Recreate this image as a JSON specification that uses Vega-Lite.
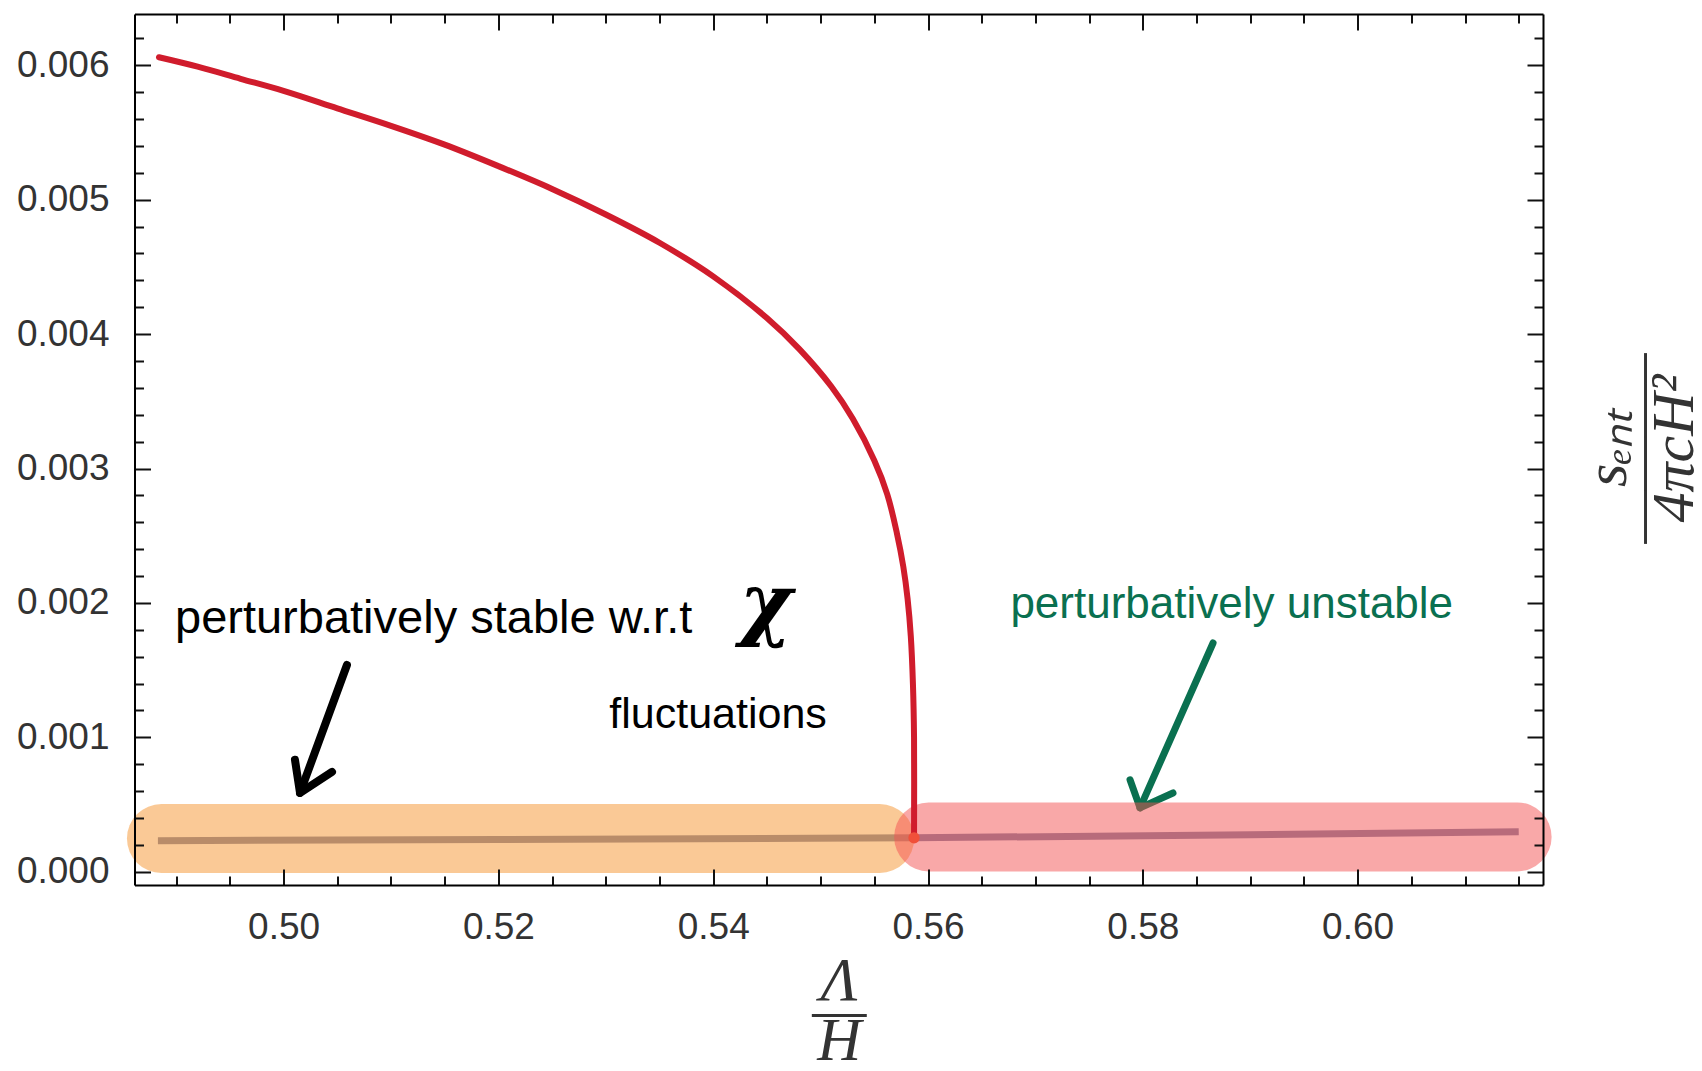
{
  "$schema": "https://vega.github.io/schema/vega-lite/v6.json",
  "width": 1408.5,
  "height": 871,
  "autosize": {"type": "none"},
  "padding": {"left": 134.5, "top": 14, "right": 159, "bottom": 186},
  "background": "white",
  "config": {"view": {"stroke": null}, "axis": {"grid": false}},
  "datasets": {
    "curve": [
      {"i": 0, "x": 0.4884, "y": 0.00606},
      {"i": 1, "x": 0.492, "y": 0.00599},
      {"i": 2, "x": 0.496, "y": 0.0059},
      {"i": 3, "x": 0.5, "y": 0.00581},
      {"i": 4, "x": 0.505, "y": 0.00568},
      {"i": 5, "x": 0.51, "y": 0.00555},
      {"i": 6, "x": 0.515, "y": 0.00541},
      {"i": 7, "x": 0.52, "y": 0.00525},
      {"i": 8, "x": 0.525, "y": 0.00508},
      {"i": 9, "x": 0.53, "y": 0.00489},
      {"i": 10, "x": 0.535, "y": 0.00468},
      {"i": 11, "x": 0.54, "y": 0.00443},
      {"i": 12, "x": 0.545, "y": 0.00412},
      {"i": 13, "x": 0.548, "y": 0.00389},
      {"i": 14, "x": 0.551, "y": 0.00361},
      {"i": 15, "x": 0.553, "y": 0.00337},
      {"i": 16, "x": 0.555, "y": 0.00306},
      {"i": 17, "x": 0.5562, "y": 0.00281},
      {"i": 18, "x": 0.5571, "y": 0.00252},
      {"i": 19, "x": 0.5577, "y": 0.00227},
      {"i": 20, "x": 0.5581, "y": 0.00203},
      {"i": 21, "x": 0.5584, "y": 0.00175},
      {"i": 22, "x": 0.5586, "y": 0.00139},
      {"i": 23, "x": 0.5587, "y": 0.001},
      {"i": 24, "x": 0.5587, "y": 0.00026}
    ],
    "base": [
      {"x": 0.4883, "y": 0.000231},
      {"x": 0.52, "y": 0.00024},
      {"x": 0.5587, "y": 0.000252},
      {"x": 0.59, "y": 0.000275},
      {"x": 0.615, "y": 0.000298}
    ],
    "bands": [
      {"band": "stable", "x": 0.48863, "y": 0.000247},
      {"band": "stable", "x": 0.5555, "y": 0.000247},
      {"band": "unstable", "x": 0.56006, "y": 0.000259},
      {"band": "unstable", "x": 0.61485, "y": 0.000259}
    ],
    "arrows": [
      {"arrow": "black", "part": "shaft", "i": 0, "x": 0.5059, "y": 0.001538},
      {"arrow": "black", "part": "shaft", "i": 1, "x": 0.50153, "y": 0.000586},
      {"arrow": "black", "part": "head", "i": 0, "x": 0.50106, "y": 0.000833},
      {"arrow": "black", "part": "head", "i": 1, "x": 0.50153, "y": 0.000586},
      {"arrow": "black", "part": "head", "i": 2, "x": 0.50451, "y": 0.000743},
      {"arrow": "green", "part": "shaft", "i": 0, "x": 0.58654, "y": 0.001702},
      {"arrow": "green", "part": "shaft", "i": 1, "x": 0.57974, "y": 0.000475},
      {"arrow": "green", "part": "head", "i": 0, "x": 0.57881, "y": 0.000684},
      {"arrow": "green", "part": "head", "i": 1, "x": 0.57974, "y": 0.000475},
      {"arrow": "green", "part": "head", "i": 2, "x": 0.58281, "y": 0.000586}
    ],
    "dot": [{"x": 0.5587, "y": 0.000252}],
    "notes": [
      {"kind": "stable", "x": 0.48989, "y": 0.001776, "label": "perturbatively stable w.r.t"},
      {"kind": "fluct", "x": 0.53033, "y": 0.001067, "label": "fluctuations"},
      {"kind": "chi", "x": 0.54491, "y": 0.00198, "label": "χ"},
      {"kind": "unstable", "x": 0.56767, "y": 0.00189, "label": "perturbatively unstable"}
    ]
  },
  "layer": [
    {
      "data": {"name": "base"},
      "mark": {"type": "line", "color": "#7d85a5", "strokeWidth": 7, "strokeCap": "butt"},
      "encoding": {
        "x": {"field": "x", "type": "quantitative", "scale": {"domain": [0.48612, 0.61726], "nice": false, "zero": false}, "axis": null},
        "y": {"field": "y", "type": "quantitative", "scale": {"domain": [-0.000099, 0.006382], "nice": false, "zero": false}, "axis": null}
      }
    },
    {
      "data": {"name": "arrows"},
      "transform": [{"filter": "datum.arrow === 'black'"}],
      "mark": {"type": "line", "color": "#000000", "strokeWidth": 8, "strokeCap": "round", "strokeJoin": "round"},
      "encoding": {
        "x": {"field": "x", "type": "quantitative", "scale": {"domain": [0.48612, 0.61726], "nice": false, "zero": false}, "axis": null},
        "y": {"field": "y", "type": "quantitative", "scale": {"domain": [-0.000099, 0.006382], "nice": false, "zero": false}, "axis": null},
        "detail": {"field": "part"},
        "order": {"field": "i", "type": "quantitative"}
      }
    },
    {
      "data": {"name": "arrows"},
      "transform": [{"filter": "datum.arrow === 'green'"}],
      "mark": {"type": "line", "color": "#0a7050", "strokeWidth": 7, "strokeCap": "round", "strokeJoin": "round"},
      "encoding": {
        "x": {"field": "x", "type": "quantitative", "scale": {"domain": [0.48612, 0.61726], "nice": false, "zero": false}, "axis": null},
        "y": {"field": "y", "type": "quantitative", "scale": {"domain": [-0.000099, 0.006382], "nice": false, "zero": false}, "axis": null},
        "detail": {"field": "part"},
        "order": {"field": "i", "type": "quantitative"}
      }
    },
    {
      "data": {"name": "bands"},
      "mark": {"type": "line", "strokeWidth": 69, "strokeCap": "round", "opacity": 0.5},
      "encoding": {
        "x": {
          "field": "x", "type": "quantitative",
          "scale": {"domain": [0.48612, 0.61726], "nice": false, "zero": false},
          "axis": {
            "orient": "top", "zindex": 1, "title": null, "labels": false,
            "values": [0.49, 0.495, 0.5, 0.505, 0.51, 0.515, 0.52, 0.525, 0.53, 0.535, 0.54, 0.545, 0.55, 0.555, 0.56, 0.565, 0.57, 0.575, 0.58, 0.585, 0.59, 0.595, 0.6, 0.605, 0.61, 0.615],
            "domainColor": "#000000", "domainWidth": 2, "tickColor": "#111111", "tickWidth": 2,
            "tickSize": {"condition": {"test": "abs(datum.value*50 - round(datum.value*50)) < 1e-6", "value": -16}, "value": -9}
          }
        },
        "y": {
          "field": "y", "type": "quantitative",
          "scale": {"domain": [-0.000099, 0.006382], "nice": false, "zero": false},
          "axis": {
            "orient": "right", "zindex": 1, "labels": false,
            "values": [0, 0.0002, 0.0004, 0.0006, 0.0008, 0.001, 0.0012, 0.0014, 0.0016, 0.0018, 0.002, 0.0022, 0.0024, 0.0026, 0.0028, 0.003, 0.0032, 0.0034, 0.0036, 0.0038, 0.004, 0.0042, 0.0044, 0.0046, 0.0048, 0.005, 0.0052, 0.0054, 0.0056, 0.0058, 0.006, 0.0062],
            "domainColor": "#000000", "domainWidth": 2, "tickColor": "#111111", "tickWidth": 2,
            "tickSize": {"condition": {"test": "abs(datum.value*1000 - round(datum.value*1000)) < 1e-6", "value": -16}, "value": -9},
            "title": ["sₑₙₜ", "———–", "4πcH²"],
            "titleFont": "Liberation Serif", "titleFontStyle": "italic", "titleFontWeight": "normal", "titleFontSize": 60, "titleColor": "#333333",
            "titleLineHeight": 33.5, "titleAngle": -90, "titleAlign": "center", "titleBaseline": "alphabetic",
            "titleX": 82, "titleY": 434
          }
        },
        "color": {"field": "band", "type": "nominal", "scale": {"domain": ["stable", "unstable"], "range": ["#f5932d", "#f35151"]}, "legend": null}
      }
    },
    {
      "data": {"name": "curve"},
      "mark": {"type": "line", "color": "#d01c2c", "strokeWidth": 6, "strokeCap": "round", "strokeJoin": "round", "interpolate": "catmull-rom"},
      "encoding": {
        "x": {
          "field": "x", "type": "quantitative",
          "scale": {"domain": [0.48612, 0.61726], "nice": false, "zero": false},
          "axis": {
            "orient": "bottom", "zindex": 1,
            "values": [0.49, 0.495, 0.5, 0.505, 0.51, 0.515, 0.52, 0.525, 0.53, 0.535, 0.54, 0.545, 0.55, 0.555, 0.56, 0.565, 0.57, 0.575, 0.58, 0.585, 0.59, 0.595, 0.6, 0.605, 0.61, 0.615],
            "labelExpr": "abs(datum.value*50 - round(datum.value*50)) < 1e-6 ? format(datum.value, '.2f') : ''",
            "labelOverlap": false, "labelFlush": false,
            "labelFont": "Liberation Sans", "labelFontSize": 37, "labelColor": "#333333", "labelPadding": 40,
            "domainColor": "#000000", "domainWidth": 2, "tickColor": "#111111", "tickWidth": 2,
            "tickSize": {"condition": {"test": "abs(datum.value*50 - round(datum.value*50)) < 1e-6", "value": -16}, "value": -9},
            "title": ["Λ", "—", "H"],
            "titleFont": "Liberation Serif", "titleFontStyle": "italic", "titleFontWeight": "normal", "titleFontSize": 61, "titleColor": "#333333",
            "titleLineHeight": 30, "titleAlign": "center", "titleBaseline": "alphabetic",
            "titleX": 704.25, "titleY": 114
          }
        },
        "y": {
          "field": "y", "type": "quantitative",
          "scale": {"domain": [-0.000099, 0.006382], "nice": false, "zero": false},
          "axis": {
            "orient": "left", "zindex": 1, "title": null,
            "values": [0, 0.0002, 0.0004, 0.0006, 0.0008, 0.001, 0.0012, 0.0014, 0.0016, 0.0018, 0.002, 0.0022, 0.0024, 0.0026, 0.0028, 0.003, 0.0032, 0.0034, 0.0036, 0.0038, 0.004, 0.0042, 0.0044, 0.0046, 0.0048, 0.005, 0.0052, 0.0054, 0.0056, 0.0058, 0.006, 0.0062],
            "labelExpr": "abs(datum.value*1000 - round(datum.value*1000)) < 1e-6 ? format(datum.value, '.3f') : ''",
            "labelOverlap": false, "labelFlush": false,
            "labelFont": "Liberation Sans", "labelFontSize": 37, "labelColor": "#333333", "labelPadding": 41.5,
            "domainColor": "#000000", "domainWidth": 2, "tickColor": "#111111", "tickWidth": 2,
            "tickSize": {"condition": {"test": "abs(datum.value*1000 - round(datum.value*1000)) < 1e-6", "value": -16}, "value": -9}
          }
        },
        "order": {"field": "i", "type": "quantitative"}
      }
    },
    {
      "data": {"name": "dot"},
      "mark": {"type": "point", "filled": true, "opacity": 1, "color": "#f0503a", "size": 130},
      "encoding": {
        "x": {"field": "x", "type": "quantitative", "scale": {"domain": [0.48612, 0.61726], "nice": false, "zero": false}, "axis": null},
        "y": {"field": "y", "type": "quantitative", "scale": {"domain": [-0.000099, 0.006382], "nice": false, "zero": false}, "axis": null}
      }
    },
    {
      "data": {"name": "notes"},
      "transform": [{"filter": "datum.kind === 'stable'"}],
      "mark": {"type": "text", "align": "left", "baseline": "alphabetic", "font": "Liberation Sans", "fontSize": 47, "color": "#000000"},
      "encoding": {
        "x": {"field": "x", "type": "quantitative", "scale": {"domain": [0.48612, 0.61726], "nice": false, "zero": false}, "axis": null},
        "y": {"field": "y", "type": "quantitative", "scale": {"domain": [-0.000099, 0.006382], "nice": false, "zero": false}, "axis": null},
        "text": {"field": "label"}
      }
    },
    {
      "data": {"name": "notes"},
      "transform": [{"filter": "datum.kind === 'fluct'"}],
      "mark": {"type": "text", "align": "left", "baseline": "alphabetic", "font": "Liberation Sans", "fontSize": 43, "color": "#000000"},
      "encoding": {
        "x": {"field": "x", "type": "quantitative", "scale": {"domain": [0.48612, 0.61726], "nice": false, "zero": false}, "axis": null},
        "y": {"field": "y", "type": "quantitative", "scale": {"domain": [-0.000099, 0.006382], "nice": false, "zero": false}, "axis": null},
        "text": {"field": "label"}
      }
    },
    {
      "data": {"name": "notes"},
      "transform": [{"filter": "datum.kind === 'chi'"}],
      "mark": {"type": "text", "align": "center", "baseline": "middle", "font": "DejaVu Serif", "fontSize": 80, "fontStyle": "italic", "fontWeight": "bold", "color": "#000000"},
      "encoding": {
        "x": {"field": "x", "type": "quantitative", "scale": {"domain": [0.48612, 0.61726], "nice": false, "zero": false}, "axis": null},
        "y": {"field": "y", "type": "quantitative", "scale": {"domain": [-0.000099, 0.006382], "nice": false, "zero": false}, "axis": null},
        "text": {"field": "label"}
      }
    },
    {
      "data": {"name": "notes"},
      "transform": [{"filter": "datum.kind === 'unstable'"}],
      "mark": {"type": "text", "align": "left", "baseline": "alphabetic", "font": "Liberation Sans", "fontSize": 44, "color": "#0a7050"},
      "encoding": {
        "x": {"field": "x", "type": "quantitative", "scale": {"domain": [0.48612, 0.61726], "nice": false, "zero": false}, "axis": null},
        "y": {"field": "y", "type": "quantitative", "scale": {"domain": [-0.000099, 0.006382], "nice": false, "zero": false}, "axis": null},
        "text": {"field": "label"}
      }
    }
  ],
  "resolve": {"axis": {"x": "independent", "y": "independent"}}
}
